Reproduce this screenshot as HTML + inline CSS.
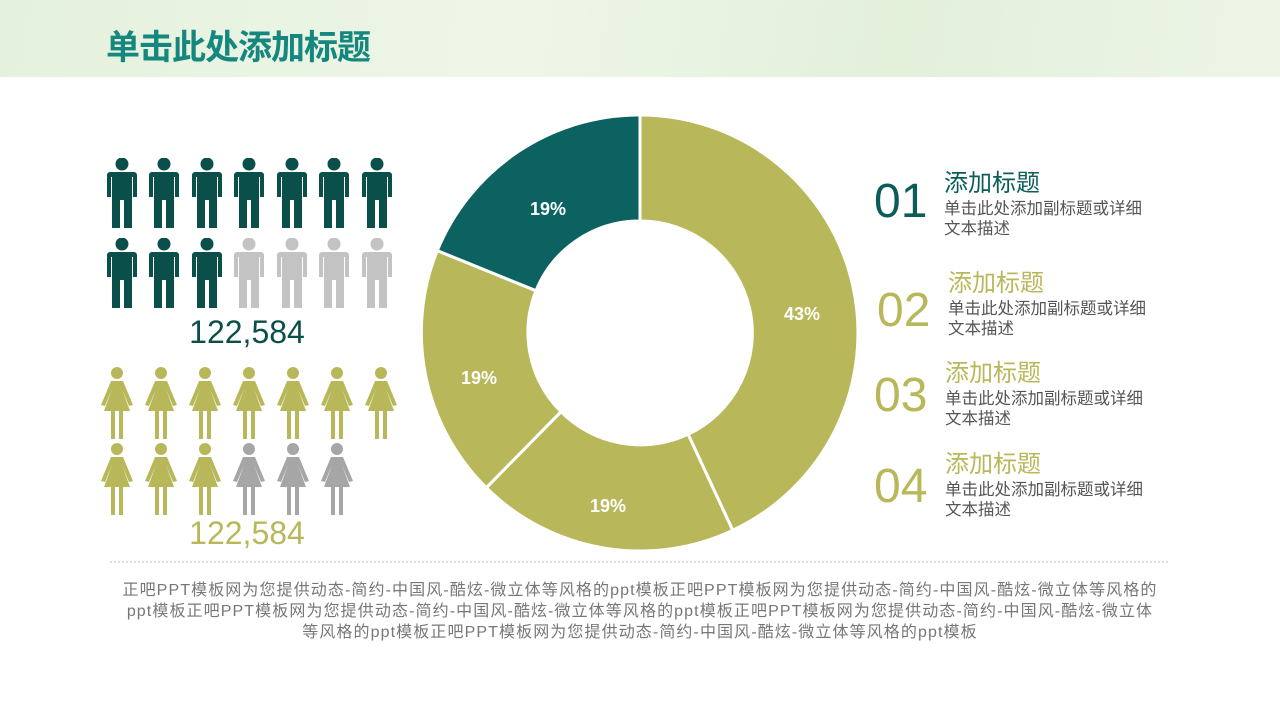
<!DOCTYPE html>
<html><head><meta charset="utf-8"><style>
body{margin:0;width:1280px;height:720px;overflow:hidden;background:#fff;font-family:"Liberation Sans","Noto Sans CJK SC",sans-serif;position:relative}
.hdr{position:absolute;left:0;top:0;width:1280px;height:77px;background:linear-gradient(100deg,#e4f1dc,#eef6e8 40%,#e3f0da 70%,#edf5e7)}
.t{position:absolute;left:106px;top:20px;font-size:34px;font-weight:bold;color:#16877f;letter-spacing:-1px}
.abs{position:absolute}
.num{font-size:48px;font-family:"Liberation Sans",sans-serif}
.h{font-size:24px;line-height:26px}
.s{font-size:16.5px;color:#555;line-height:20px;white-space:nowrap}
.foot{position:absolute;left:40px;top:580px;width:1200px;text-align:center;font-size:16px;letter-spacing:1.1px;color:#777;line-height:21px;white-space:nowrap}
</style></head><body>
<div class="hdr"></div>
<div class="t">单击此处添加标题</div>
<svg class="abs" style="left:0;top:0" width="1280" height="720">
<defs>
<symbol id="man" viewBox="0 0 30 72"><circle cx="15" cy="6" r="6.5"/><path d="M3 14h24a3 3 0 0 1 3 3v22h-4v-20h-1v51h-8v-28h-4v28h-8v-51h-1v20h-4v-22a3 3 0 0 1 3-3z"/></symbol>
<symbol id="wom" viewBox="0 0 34 72"><circle cx="17" cy="6" r="6"/><path d="M11 14h12l10 24-4 1-7-17 8 22h-7v28h-4v-28h-4v28h-4v-28h-7l8-22-7 17-4-1z"/></symbol>
</defs>
<g fill="#0b4f4a">
<use href="#man" x="107" y="158" width="30" height="72"/><use href="#man" x="149" y="158" width="30" height="72"/><use href="#man" x="192" y="158" width="30" height="72"/><use href="#man" x="234" y="158" width="30" height="72"/><use href="#man" x="277" y="158" width="30" height="72"/><use href="#man" x="319" y="158" width="30" height="72"/><use href="#man" x="362" y="158" width="30" height="72"/>
<use href="#man" x="107" y="238" width="30" height="72"/><use href="#man" x="149" y="238" width="30" height="72"/><use href="#man" x="192" y="238" width="30" height="72"/></g>
<g fill="#c3c3c3"><use href="#man" x="234" y="238" width="30" height="72"/><use href="#man" x="277" y="238" width="30" height="72"/><use href="#man" x="319" y="238" width="30" height="72"/><use href="#man" x="362" y="238" width="30" height="72"/></g>
<g fill="#b8b85a">
<use href="#wom" x="100" y="367" width="34" height="72"/><use href="#wom" x="144" y="367" width="34" height="72"/><use href="#wom" x="188" y="367" width="34" height="72"/><use href="#wom" x="232" y="367" width="34" height="72"/><use href="#wom" x="276" y="367" width="34" height="72"/><use href="#wom" x="320" y="367" width="34" height="72"/><use href="#wom" x="364" y="367" width="34" height="72"/>
<use href="#wom" x="100" y="443" width="34" height="72"/><use href="#wom" x="144" y="443" width="34" height="72"/><use href="#wom" x="188" y="443" width="34" height="72"/></g>
<g fill="#a6a6a6"><use href="#wom" x="232" y="443" width="34" height="72"/><use href="#wom" x="276" y="443" width="34" height="72"/><use href="#wom" x="320" y="443" width="34" height="72"/></g>
<text x="247" y="343" text-anchor="middle" font-size="32" fill="#0b4f4a" font-family="Liberation Sans,sans-serif">122,584</text>
<text x="247" y="544" text-anchor="middle" font-size="32" fill="#b8b85a" font-family="Liberation Sans,sans-serif">122,584</text>
<g stroke="#fff" stroke-width="3">
<path fill="#b8b85a" d="M640 115A218 218 0 0 1 732.7 530.3L688.1 434.3A112 112 0 0 0 640 221Z"/>
<path fill="#b8b85a" d="M732.7 530.3A218 218 0 0 1 486.3 487.7L561 411.7A112 112 0 0 0 688.1 434.3Z"/>
<path fill="#b8b85a" d="M486.3 487.7A218 218 0 0 1 437.3 250.6L536 290.7A112 112 0 0 0 561 411.7Z"/>
<path fill="#0c6260" d="M437.3 250.6A218 218 0 0 1 640 115L640 221A112 112 0 0 0 536 290.7Z"/>
</g>
<g fill="#fff" font-size="18" font-weight="bold" text-anchor="middle" font-family="Liberation Sans,sans-serif">
<text x="802" y="320">43%</text><text x="608" y="512">19%</text><text x="479" y="384">19%</text><text x="548" y="215">19%</text></g>
<line x1="110" y1="562" x2="1170" y2="562" stroke="#bbb" stroke-dasharray="2,2"/>
</svg>
<div class="abs num" style="left:874px;top:174px;color:#0b5d5a">01</div>
<div class="abs h" style="left:944px;top:171px;color:#0b5d5a">添加标题</div>
<div class="abs s" style="left:944px;top:199px">单击此处添加副标题或详细<br>文本描述</div>
<div class="abs num" style="left:877px;top:283px;color:#b8b85a">02</div>
<div class="abs h" style="left:948px;top:271px;color:#b8b85a">添加标题</div>
<div class="abs s" style="left:948px;top:299px">单击此处添加副标题或详细<br>文本描述</div>
<div class="abs num" style="left:874px;top:368px;color:#b8b85a">03</div>
<div class="abs h" style="left:945px;top:361px;color:#b8b85a">添加标题</div>
<div class="abs s" style="left:945px;top:389px">单击此处添加副标题或详细<br>文本描述</div>
<div class="abs num" style="left:874px;top:459px;color:#b8b85a">04</div>
<div class="abs h" style="left:945px;top:452px;color:#b8b85a">添加标题</div>
<div class="abs s" style="left:945px;top:480px">单击此处添加副标题或详细<br>文本描述</div>
<div class="foot">正吧PPT模板网为您提供动态-简约-中国风-酷炫-微立体等风格的ppt模板正吧PPT模板网为您提供动态-简约-中国风-酷炫-微立体等风格的<br>ppt模板正吧PPT模板网为您提供动态-简约-中国风-酷炫-微立体等风格的ppt模板正吧PPT模板网为您提供动态-简约-中国风-酷炫-微立体<br>等风格的ppt模板正吧PPT模板网为您提供动态-简约-中国风-酷炫-微立体等风格的ppt模板</div>
</body></html>
